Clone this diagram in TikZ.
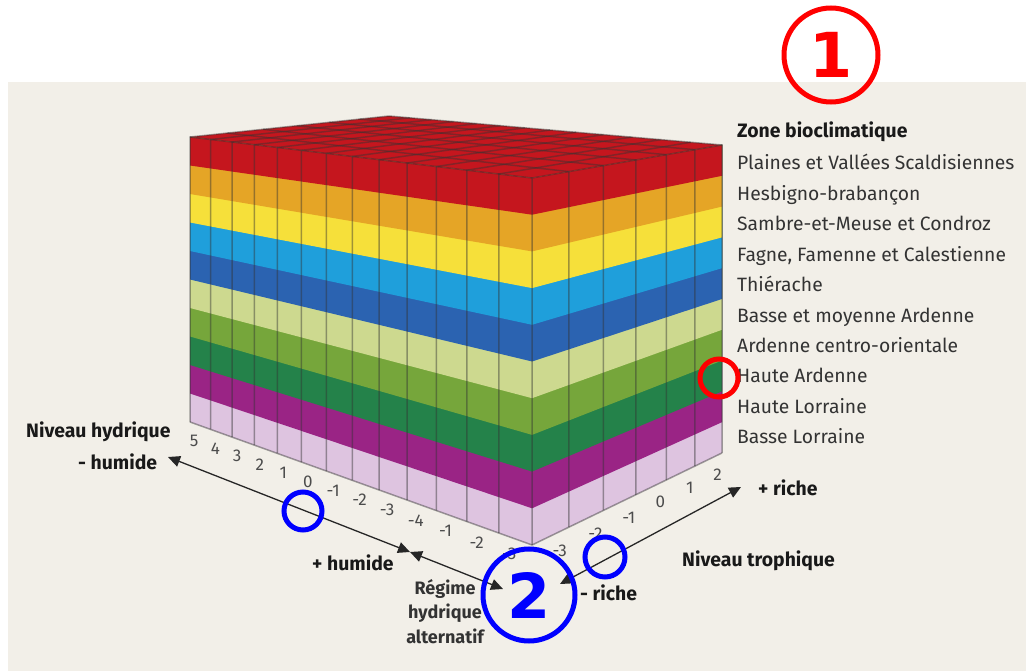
\documentclass[tikz,border=0pt]{standalone}
\usepackage{fontspec}
\setmainfont{Fira Sans}
\newfontfamily\markfont{DejaVu Sans}
\usetikzlibrary{positioning, arrows.meta}

\definecolor{fond}{HTML}{F2EFE8}
\definecolor{zoneA}{HTML}{C5161E}
\definecolor{zoneB}{HTML}{E5A526}
\definecolor{zoneC}{HTML}{F6E03A}
\definecolor{zoneD}{HTML}{1F9FDB}
\definecolor{zoneE}{HTML}{2B63B1}
\definecolor{zoneF}{HTML}{CDD98F}
\definecolor{zoneG}{HTML}{76A63B}
\definecolor{zoneH}{HTML}{24824A}
\definecolor{zoneI}{HTML}{9A2485}
\definecolor{zoneJ}{HTML}{DEC4E0}
\definecolor{texte}{HTML}{333333}

\begin{document}
\begin{tikzpicture}[x=1pt, y=-1pt,
        declare function={
            cubw(\x,\y)=1-0.2264*\x+0.1562*\y;
            cubx(\x,\y)=(221.6*\x+259.8*\y+190)/cubw(\x,\y);
            cubt(\x,\y)=(0.70*\x-2.88*\y+137)/cubw(\x,\y);
            cubb(\x,\y)=(422-0.4*\x-0.4*\y)/cubw(\x,\y);
            cuby(\x,\y,\z)=cubb(\x,\y)+(cubt(\x,\y)-cubb(\x,\y))*\z/10;
        },
        grille/.style={draw=black!80, draw opacity=0.45, line width=1.5pt},
        axe/.style={line width=1.3pt, draw=black!85, {Triangle[length=12pt,width=11pt]}-{Triangle[length=12pt,width=11pt]}},
        num/.style={text=black!70, font=\fontsize{17}{17}\selectfont, inner sep=0pt},
        leg/.style={text=texte, font=\fontsize{19.3}{19.3}\selectfont, anchor=base west, inner sep=0pt},
        titre/.style={text=black!90, font=\bfseries\fontsize{19.4}{19.4}\selectfont, anchor=base west, inner sep=0pt},
        repere/.style={circle, line width=5pt, inner sep=0pt, font=\markfont\bfseries\fontsize{62}{62}\selectfont}
    ]
    \fill[white] (0,0) rectangle (1026,671);
    \fill[fond] (8,82) rectangle (1026,671);
    \useasboundingbox (0,0) rectangle (1026,671);

    % couches du bloc, de bas en haut
    \foreach \k/\col in {0/zoneJ,1/zoneI,2/zoneH,3/zoneG,4/zoneF,5/zoneE,6/zoneD,7/zoneC,8/zoneB,9/zoneA}
        \fill[\col] ({cubx(0,0)},{cuby(0,0,\k)}) -- ({cubx(1,0)},{cuby(1,0,\k)}) -- ({cubx(1,1)},{cuby(1,1,\k)})
            -- ({cubx(1,1)},{cuby(1,1,10)}) -- ({cubx(1,0)},{cuby(1,0,10)}) -- ({cubx(0,0)},{cuby(0,0,10)}) -- cycle;
    \fill[zoneA] ({cubx(0,0)},{cuby(0,0,10)}) -- ({cubx(1,0)},{cuby(1,0,10)}) -- ({cubx(1,1)},{cuby(1,1,10)}) -- ({cubx(0,1)},{cuby(0,1,10)}) -- cycle;

    % grille
    \foreach \c in {0,...,13}
        \draw[grille] ({cubx(\c/13,0)},{cuby(\c/13,0,0)}) -- ({cubx(\c/13,0)},{cuby(\c/13,0,10)}) -- ({cubx(\c/13,1)},{cuby(\c/13,1,10)});
    \foreach \c in {1,...,6}
        \draw[grille] ({cubx(1,\c/6)},{cuby(1,\c/6,0)}) -- ({cubx(1,\c/6)},{cuby(1,\c/6,10)}) -- ({cubx(0,\c/6)},{cuby(0,\c/6,10)});
    \draw[grille] ({cubx(0,0)},{cuby(0,0,10)}) -- ({cubx(1,0)},{cuby(1,0,10)});
    \draw[grille] ({cubx(0,0)},{cuby(0,0,0)}) -- ({cubx(1,0)},{cuby(1,0,0)}) -- ({cubx(1,1)},{cuby(1,1,0)});

    % graduations
    \foreach \t [count=\c] in {5,4,3,2,1,0,-1,-2,-3,-4,-1,-2,-3}
        \node[num] (nh\c) at ({cubx((\c-0.5)/13,0)-6},{cubb((\c-0.5)/13,0)+15}) {\t};
    \foreach \t [count=\c] in {-3,-2,-1,0,1,2}
        \node[num] (nt\c) at ({cubx(1,(\c-0.5)/6)+9},{cubb(1,(\c-0.5)/6)+15}) {\t};

    % axes
    \coordinate (hsec) at (168,457);
    \coordinate (hmid) at (410,552);
    \coordinate (halt) at (503,589);
    \coordinate (tpauv) at (560,584);
    \coordinate (trich) at (741,487);
    \draw[axe] (hsec) -- (hmid);
    \draw[axe] (hmid) -- (halt);
    \draw[axe] (tpauv) -- (trich);

    % textes
    \node[titre] (zone) at (737,138) {Zone bioclimatique};
    \foreach \t [count=\c] in {Plaines et Vallées Scaldisiennes, Hesbigno-brabançon, Sambre-et-Meuse et Condroz,
            {Fagne, Famenne et Calestienne}, Thiérache, Basse et moyenne Ardenne, Ardenne centro-orientale,
            Haute Ardenne, Haute Lorraine, Basse Lorraine}
        \node[leg] (z\c) at (737,{170+30.4*(\c-1)}) {\t};

    \node[titre] (nhyd) at (26,437) {Niveau hydrique};
    \node[titre] (hmoins) at (78,469) {- humide};
    \node[titre] (hplus) at (312,570) {+ humide};
    \node[titre] (ntro) at (682,566) {Niveau trophique};
    \node[titre] (tplus) at (758,495) {+ riche};
    \node[titre] (tmoins) at (580,600) {- riche};
    \node[titre, text=black!80, anchor=north, align=center, font=\bfseries\fontsize{18}{24.5}\selectfont] (alt) at (445,579) {Régime\\hydrique\\alternatif};

    % reperes
    \node[repere, draw=red, text=red, minimum size=94pt] (m1) at (831,55) {1};
    \node[repere, draw=blue, text=blue, minimum size=92pt] (m2) at (529,595) {2};
    \node[repere, draw=red, minimum size=38pt] (c1) at (719,378) {};
    \node[repere, draw=blue, minimum size=38pt] (c2) at (303,511) {};
    \node[repere, draw=blue, minimum size=40pt] (c3) at (605,557) {};
\end{tikzpicture}
\end{document}
